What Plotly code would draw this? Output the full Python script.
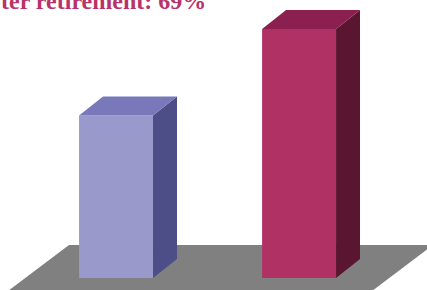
import plotly.graph_objects as go

# Data
categories = ["Before retirement", "After retirement"]
values = [45, 69]
front_colors = ["#9999CC", "#B03265"]
side_colors = ["#4D4D87", "#5A1530"]
top_colors = ["#7878BA", "#8B1F4F"]
title_text = "ter retirement: 69%"

# Geometry (in data units)
bar_w = 0.404
depth_x = 0.131
depth_y = 5.26

fig = go.Figure()

# floor
floor_x = [-0.585, 1.404, 1.732, -0.257, -0.585]
floor_y = [-3.4, -3.4, 9.14, 9.14, -3.4]
fig.add_trace(go.Scatter(x=floor_x, y=floor_y, fill="toself", fillcolor="#808080",
                         mode="lines", line=dict(width=0), hoverinfo="skip", showlegend=False))

for i, (cat, v) in enumerate(zip(categories, values)):
    x0 = i - bar_w / 2
    x1 = i + bar_w / 2
    # front
    fig.add_trace(go.Scatter(x=[x0, x1, x1, x0, x0], y=[0, 0, v, v, 0], fill="toself",
                             fillcolor=front_colors[i], mode="lines", line=dict(width=0),
                             name=cat, hoverinfo="name+y", showlegend=False))
    # side
    fig.add_trace(go.Scatter(x=[x1, x1 + depth_x, x1 + depth_x, x1, x1],
                             y=[0, depth_y, v + depth_y, v, 0], fill="toself",
                             fillcolor=side_colors[i], mode="lines", line=dict(width=0),
                             hoverinfo="skip", showlegend=False))
    # top
    fig.add_trace(go.Scatter(x=[x0, x1, x1 + depth_x, x0 + depth_x, x0],
                             y=[v, v, v + depth_y, v + depth_y, v], fill="toself",
                             fillcolor=top_colors[i], mode="lines", line=dict(width=0),
                             hoverinfo="skip", showlegend=False))

fig.update_layout(
    width=427, height=290,
    margin=dict(l=0, r=0, t=0, b=0),
    paper_bgcolor="white", plot_bgcolor="white",
    xaxis=dict(range=[-0.634, 1.699], visible=False, fixedrange=True),
    yaxis=dict(range=[-3.325, 77.03], visible=False, fixedrange=True),
    annotations=[dict(text="<b>" + title_text + "</b>", xref="paper", yref="paper",
                      x=-1 / 427, y=1 + 14 / 290, xanchor="left", yanchor="top",
                      showarrow=False,
                      font=dict(family="Liberation Serif", size=24, color="#B8336A"))],
)

fig.write_html("out.html", config={"displayModeBar": False},
               post_script="document.body.style.margin='0';document.body.style.overflow='hidden';")
